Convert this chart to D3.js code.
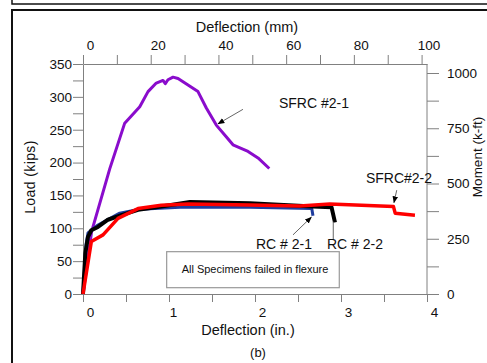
<!DOCTYPE html>
<html>
<head>
<meta charset="utf-8">
<script src="https://cdn.jsdelivr.net/npm/d3@7"></script>
<style>
  body { margin: 0; background: #fff; }
  text { font-family: "Liberation Sans", Arial, sans-serif; fill: #111; }
</style>
</head>
<body>
<div id="chart"></div>
<script>
// deflection in inches, load in kips
const sfrc21 = [[0, 0], [0.1, 95], [0.31, 190], [0.485, 260], [0.66, 285], [0.756, 308], [0.852, 321],
  [0.93, 325], [0.957, 320], [0.988, 326], [1.047, 330], [1.105, 328], [1.221, 318], [1.337, 308],
  [1.434, 283], [1.55, 257], [1.648, 242], [1.744, 227], [1.919, 217], [2.035, 207], [2.166, 191]];
const rc21 = [[0, 0], [0.035, 75], [0.058, 93], [0.174, 105], [0.427, 123], [0.66, 129], [1.128, 132],
  [1.94, 132], [2.66, 130], [2.674, 119]];
const rc22 = [[0, 0], [0.027, 62], [0.058, 87], [0.097, 97], [0.174, 102], [0.29, 113], [0.445, 120],
  [0.64, 128], [0.91, 133], [1.244, 140], [1.94, 138], [2.674, 133], [2.89, 132], [2.93, 109]];
const sfrc22 = [[0, 0], [0.097, 80], [0.233, 90], [0.407, 115], [0.64, 130], [0.91, 135], [1.22, 137],
  [1.94, 135.5], [2.52, 134], [2.87, 137], [3.61, 133], [3.63, 123], [3.86, 120]];

const loadTicks = d3.range(0, 351, 25);
const momentTicks = d3.range(0, 1001, 125);
const mmTicks = d3.range(0, 101, 10);
const inTicks = d3.range(0, 4.01, 0.5);

const width = 487, height = 363;
const plot = { left: 83, right: 427, top: 64, bottom: 294 };

const svg = d3.select('#chart').append('svg')
  .attr('width', width).attr('height', height);

// frames of the figure panel
svg.append('rect').attr('x', 12).attr('y', -20).attr('width', 500).attr('height', 24)
  .attr('fill', 'none').attr('stroke', '#111').attr('stroke-width', 1.5);
svg.append('rect').attr('x', 12).attr('y', 10).attr('width', 500).attr('height', 400)
  .attr('fill', 'none').attr('stroke', '#111').attr('stroke-width', 2);

const x = d3.scaleLinear().domain([0, 4]).range([plot.left, plot.right]);
const xmm = d3.scaleLinear().domain([0, 4 * 25.4]).range([plot.left, plot.right]);
const y = d3.scaleLinear().domain([0, 350]).range([plot.bottom, plot.top]);
const y2 = d3.scaleLinear().domain([0, 1000]).range([plot.bottom, 73]);

function styleAxis(g) {
  g.select('.domain').attr('stroke', '#808080');
  g.selectAll('.tick line').attr('stroke', '#808080');
  g.selectAll('.tick text').style('font-size', '13.5px')
    .style('font-family', '"Liberation Sans", Arial, sans-serif').attr('fill', '#111');
}

svg.append('g').attr('transform', `translate(${plot.left},0)`)
  .call(d3.axisLeft(y).tickValues(loadTicks).tickSize(10).tickSizeOuter(0).tickPadding(1)
    .tickFormat(d => d % 50 ? '' : d))
  .call(styleAxis);

svg.append('g').attr('transform', `translate(${plot.right},0)`)
  .call(d3.axisRight(y2).tickValues(momentTicks).tickSize(12).tickSizeOuter(0).tickPadding(8)
    .tickFormat(d => d % 250 ? '' : d))
  .call(styleAxis)
  .call(g => g.select('.domain').attr('d', `M0,${plot.bottom}V${plot.top}`));

svg.append('g').attr('transform', `translate(0,${plot.top})`)
  .call(d3.axisTop(xmm).tickValues(mmTicks).tickSize(9).tickSizeOuter(0).tickPadding(5)
    .tickFormat(d => d % 20 ? '' : d))
  .call(styleAxis)
  .call(g => g.selectAll('.tick text').attr('dx', 7));

svg.append('g').attr('transform', `translate(0,${plot.bottom})`)
  .call(d3.axisBottom(x).tickValues(inTicks).tickSize(8).tickSizeOuter(0).tickPadding(5)
    .tickFormat(d => d % 1 ? '' : d))
  .call(styleAxis)
  .call(g => g.selectAll('.tick text').attr('dx', d => d === 1 ? 4 : 7));

// titles
svg.append('text').attr('x', 247).attr('y', 32).attr('text-anchor', 'middle')
  .style('font-size', '14.5px').text('Deflection (mm)');
svg.append('text').attr('x', 248).attr('y', 335).attr('text-anchor', 'middle')
  .style('font-size', '14.5px').text('Deflection (in.)');
svg.append('text').attr('x', 258).attr('y', 357).attr('text-anchor', 'middle')
  .style('font-size', '13px').text('(b)');
svg.append('text').attr('transform', 'translate(35,177) rotate(-90)').attr('text-anchor', 'middle')
  .style('font-size', '14px').style('letter-spacing', '0.4px').text('Load (kips)');
svg.append('text').attr('transform', 'translate(482,157) rotate(-90)').attr('text-anchor', 'middle')
  .style('font-size', '13.5px').text('Moment (k-ft)');

// curves
const line = d3.line().x(d => x(d[0])).y(d => y(d[1]));
const series = [
  { data: sfrc21, color: '#8a0ccc', w: 3 },
  { data: rc21, color: '#1f3d9e', w: 3 },
  { data: rc22, color: '#000000', w: 4 },
  { data: sfrc22, color: '#ff0000', w: 3.5 }
];
svg.selectAll('path.curve').data(series).enter().append('path')
  .attr('class', 'curve')
  .attr('d', d => line(d.data))
  .attr('fill', 'none')
  .attr('stroke', d => d.color)
  .attr('stroke-width', d => d.w)
  .attr('stroke-linejoin', 'round');

// note box
svg.append('rect')
  .attr('x', x(0.973)).attr('y', y(64.4))
  .attr('width', x(2.98) - x(0.973)).attr('height', y(9.6) - y(64.4))
  .attr('fill', '#fff').attr('stroke', '#999').attr('stroke-width', 1.2);
svg.append('text').attr('x', x(2.0)).attr('y', y(38)).attr('dy', '0.35em')
  .attr('text-anchor', 'middle').style('font-size', '11px').text('All Specimens failed in flexure');

// labels with leaders
const defs = svg.append('defs');
defs.append('marker').attr('id', 'arr').attr('viewBox', '0 0 10 10')
  .attr('refX', 9).attr('refY', 5).attr('markerWidth', 7).attr('markerHeight', 7)
  .attr('markerUnits', 'userSpaceOnUse').attr('orient', 'auto')
  .append('path').attr('d', 'M0,1L10,5L0,9Z').attr('fill', '#000');

const labels = [
  { text: 'SFRC #2-1', at: [2.686, 291], from: [1.86, 281], to: [1.57, 259], arrow: true },
  { text: 'SFRC#2-2', at: [3.674, 176.5], from: [3.648, 158], to: [3.616, 139], arrow: true },
  { text: 'RC # 2-1', at: [2.337, 76], from: [2.442, 90], to: [2.655, 117], arrow: true },
  { text: 'RC # 2-2', at: [3.163, 76], from: [2.91, 82], to: [2.91, 110], arrow: false }
];
labels.forEach(l => {
  svg.append('line')
    .attr('x1', x(l.from[0])).attr('y1', y(l.from[1]))
    .attr('x2', x(l.to[0])).attr('y2', y(l.to[1]))
    .attr('stroke', '#666').attr('stroke-width', 1)
    .attr('marker-end', l.arrow ? 'url(#arr)' : null);
  svg.append('text').attr('x', x(l.at[0])).attr('y', y(l.at[1])).attr('dy', '0.35em')
    .attr('text-anchor', 'middle').style('font-size', '14px').text(l.text);
});
</script>
</body>
</html>
